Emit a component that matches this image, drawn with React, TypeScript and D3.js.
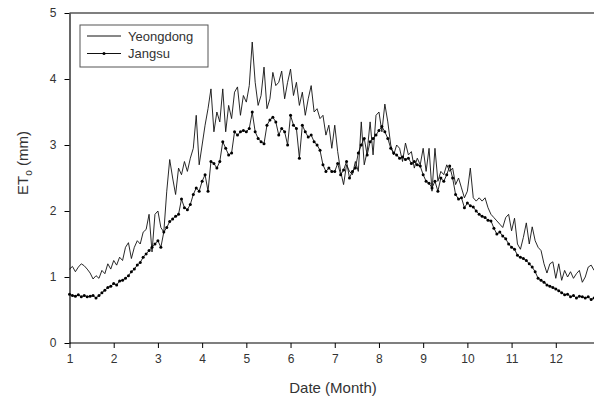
import React, { useEffect, useRef } from 'react';
import * as d3 from 'd3';

// daily ET0, 15 samples per month (Jan..Dec)
const yeongdong = [
  1.12, 1.16, 1.08, 1.15, 1.2, 1.17, 1.12, 1.06, 0.97, 1.02, 0.98, 1.1, 1.05, 1.2, 1.12,
  1.25, 1.18, 1.3, 1.25, 1.45, 1.52, 1.28, 1.45, 1.55, 1.5, 1.68, 1.72, 1.95, 1.38, 1.95,
  2.0, 1.75, 1.68, 2.3, 2.78, 2.5, 2.25, 2.65, 2.55, 2.75, 2.6, 2.8, 2.95, 3.45, 2.7,
  3.0, 3.3, 3.55, 3.85, 3.2, 3.5, 3.35, 3.85, 3.2, 3.6, 3.4, 3.8, 3.88, 3.45, 3.75,
  3.65, 3.9, 4.56, 3.95, 3.6, 3.75, 4.18, 3.55, 3.7, 4.1, 3.9, 3.95, 4.12, 3.7, 3.95,
  4.15, 3.75, 3.95, 3.6, 3.8, 3.45, 3.7, 3.9, 3.5, 3.55, 3.4, 3.45, 3.15, 3.3, 2.95,
  3.3, 2.9, 2.6, 2.4, 2.7, 2.6, 2.55, 2.75, 2.6, 3.35, 2.7, 2.9, 3.35, 2.85, 3.45,
  3.5, 3.2, 3.62, 3.35, 3.0, 2.85, 3.0, 2.95, 2.75, 3.03, 2.85, 2.9, 2.65, 2.8, 2.7,
  2.95, 2.6, 2.95, 2.3, 2.95, 2.45, 2.6, 2.55, 2.7, 2.6, 2.65, 2.4, 2.5, 2.35, 2.2,
  2.3, 2.65, 2.2, 2.15, 2.2, 2.15, 2.2, 2.05, 1.95, 1.9, 1.85, 1.8, 1.75, 1.9, 1.95,
  1.7, 1.89, 1.5, 1.42, 1.6, 1.82, 1.5, 1.76, 1.55, 1.45, 1.4, 1.2, 1.06, 1.2, 1.23,
  0.98, 1.2, 0.95, 1.1, 1.0, 1.08, 0.98, 1.05, 1.1, 0.92, 1.0, 1.15, 1.18, 1.1, 1.12,
];

const jangsu = [
  0.74, 0.72, 0.71, 0.73, 0.7, 0.72, 0.7, 0.71, 0.72, 0.68, 0.72, 0.76, 0.8, 0.84, 0.86,
  0.9, 0.88, 0.94, 0.95, 0.98, 1.02, 1.08, 1.12, 1.18, 1.22, 1.3, 1.35, 1.4, 1.45, 1.5,
  1.55, 1.45, 1.68, 1.75, 1.84, 1.88, 1.92, 1.95, 2.18, 2.05, 2.02, 2.1, 2.25, 2.35, 2.3,
  2.45, 2.55, 2.3, 2.75, 2.72, 2.65, 2.75, 3.05, 2.95, 2.85, 2.88, 3.2, 3.15, 3.2, 3.22,
  3.2, 3.25, 3.5, 3.2, 3.1, 3.05, 3.02, 3.3, 3.38, 3.42, 3.35, 3.15, 3.25, 3.2, 3.0,
  3.45, 3.3, 3.25, 2.8, 3.3, 3.2, 3.12, 3.15, 3.05, 3.0, 2.92, 2.7, 2.6, 2.65, 2.6,
  2.6, 2.72, 2.55, 2.62, 2.75, 2.5, 2.6, 2.65, 2.88, 3.0, 3.1, 2.85, 3.05, 3.1, 3.15,
  3.22, 3.28, 3.2, 3.1, 2.95, 2.88, 2.85, 2.8, 2.82, 2.78, 2.8, 2.72, 2.75, 2.7, 2.68,
  2.55, 2.45, 2.42, 2.35, 2.45, 2.3, 2.5, 2.45, 2.55, 2.68, 2.5, 2.25, 2.18, 2.2, 2.05,
  2.12, 2.08, 2.06, 2.0, 1.95, 1.92, 1.9, 1.86, 1.85, 1.74, 1.65, 1.68, 1.62, 1.58, 1.5,
  1.45, 1.42, 1.33, 1.3, 1.28, 1.25, 1.2, 1.15, 1.08, 0.98, 0.95, 0.92, 0.88, 0.86, 0.84,
  0.82, 0.79, 0.76, 0.73, 0.74, 0.7, 0.72, 0.68, 0.71, 0.7, 0.68, 0.7, 0.66, 0.68, 0.7,
];

const monthTicks = [1, 2, 3, 4, 5, 6, 7, 8, 9, 10, 11, 12];
const etTicks = [0, 1, 2, 3, 4, 5];
const seriesNames = ['Yeongdong', 'Jangsu'];
const perMonth = 15;

const width = 594;
const height = 399;
const font = 'Arial, "Liberation Sans", sans-serif';

export default function App() {
  const svgRef = useRef<SVGSVGElement>(null);

  useEffect(() => {
    const svg = d3.select(svgRef.current);
    svg.selectAll('*').remove();

    const x = d3.scaleLinear().domain([1, 13]).range([69.5, 600]);
    const y = d3.scaleLinear().domain([0, 5]).range([343, 13]);

    const line = d3.line<number>()
      .x((d, i) => x(1 + i / perMonth))
      .y(d => y(d));

    // frame top
    svg.append('line')
      .attr('x1', x(1)).attr('x2', width)
      .attr('y1', y(5)).attr('y2', y(5))
      .attr('stroke', '#000').attr('stroke-width', 1.2);

    svg.append('path')
      .datum(yeongdong)
      .attr('fill', 'none')
      .attr('stroke', '#111')
      .attr('stroke-width', 0.9)
      .attr('d', line);

    svg.append('path')
      .datum(jangsu)
      .attr('fill', 'none')
      .attr('stroke', '#111')
      .attr('stroke-width', 0.9)
      .attr('d', line);

    svg.selectAll('.dot')
      .data(jangsu)
      .enter()
      .append('circle')
      .attr('class', 'dot')
      .attr('cx', (d, i) => x(1 + i / perMonth))
      .attr('cy', d => y(d))
      .attr('r', 1.5)
      .attr('fill', '#000');

    // axes
    const xAxis = svg.append('g')
      .attr('transform', `translate(0,${y(0)})`)
      .call(d3.axisBottom(x).tickValues(monthTicks).tickFormat(d3.format('d')).tickSize(5).tickSizeOuter(0).tickPadding(6));
    xAxis.select('.domain').attr('d', `M${x(1)},0H${width}`).attr('stroke-width', 1.2);

    const yAxis = svg.append('g')
      .attr('transform', `translate(${x(1)},0)`)
      .call(d3.axisLeft(y).tickValues(etTicks).tickFormat(d3.format('d')).tickSize(5).tickSizeOuter(0).tickPadding(8));
    yAxis.select('.domain').attr('stroke-width', 1.2);

    [xAxis, yAxis].forEach(a => {
      a.selectAll('text')
        .style('font-family', font)
        .style('font-size', '12px')
        .attr('fill', '#333');
    });

    // axis titles
    const yt = svg.append('text')
      .attr('transform', `translate(28,163) rotate(-90)`)
      .attr('text-anchor', 'middle')
      .style('font-family', font)
      .style('font-size', '15px')
      .attr('fill', '#333');
    yt.append('tspan').text('ET');
    yt.append('tspan').attr('dy', 4).style('font-size', '10px').text('o');
    yt.append('tspan').attr('dy', -4).text(' (mm)');

    svg.append('text')
      .attr('x', 333)
      .attr('y', 393)
      .attr('text-anchor', 'middle')
      .style('font-family', font)
      .style('font-size', '15px')
      .attr('fill', '#333')
      .text('Date (Month)');

    // legend
    const legend = svg.append('g');
    legend.append('rect')
      .attr('x', 80).attr('y', 25)
      .attr('width', 128).attr('height', 42)
      .attr('fill', '#fff')
      .attr('stroke', '#555')
      .attr('stroke-width', 1);

    seriesNames.forEach((name, i) => {
      const cy = 36 + i * 17.5;
      legend.append('line')
        .attr('x1', 87).attr('x2', 121)
        .attr('y1', cy).attr('y2', cy)
        .attr('stroke', '#111').attr('stroke-width', 1);
      if (i === 1) {
        legend.append('circle')
          .attr('cx', 104).attr('cy', cy).attr('r', 1.5).attr('fill', '#000');
      }
      legend.append('text')
        .attr('x', 128).attr('y', cy)
        .attr('dy', '0.35em')
        .style('font-family', font)
        .style('font-size', '13px')
        .attr('fill', '#333')
        .text(name);
    });
  }, []);

  return (
    <svg
      ref={svgRef}
      width={width}
      height={height}
      style={{ position: 'absolute', left: 0, top: 0, background: '#fff' }}
    />
  );
}
